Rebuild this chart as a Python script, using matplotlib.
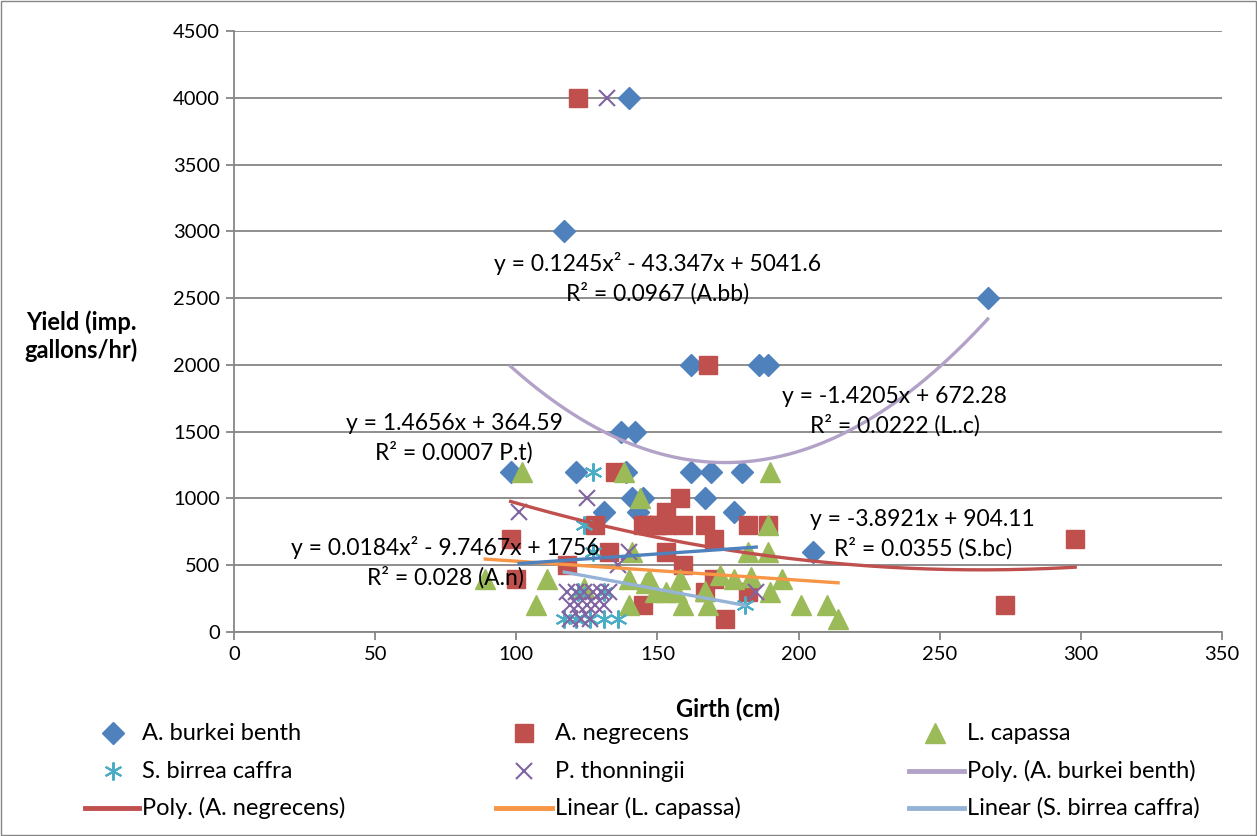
import numpy as np
import matplotlib.pyplot as plt
from matplotlib.patches import Rectangle
from matplotlib.lines import Line2D

plt.rcParams['font.family'] = ['Lato', 'DejaVu Sans']
plt.rcParams['font.size'] = 14

# scatter data (girth cm, yield imp. gallons/hr)
burkei_x = [140, 117, 267, 162, 186, 189, 137, 142, 98, 121, 139, 162, 169, 180, 141, 145, 167, 131, 143, 177, 205]
burkei_y = [4000, 3000, 2500, 2000, 2000, 2000, 1500, 1500, 1200, 1200, 1200, 1200, 1200, 1200, 1000, 1000, 1000, 900, 900, 900, 600]

negre_x = [122, 168, 135, 128, 98, 100, 118, 145, 150, 158, 153, 147, 153, 159, 167, 182, 189, 170,
           133, 153, 159, 170, 167, 174, 145, 182, 273, 298]
negre_y = [4000, 2000, 1200, 800, 700, 400, 500, 800, 800, 1000, 900, 800, 800, 800, 800, 800, 800, 700,
           600, 600, 500, 400, 300, 100, 200, 300, 200, 700]

capassa_x = [89, 102, 107, 111, 124, 138, 140, 141, 144, 146, 147, 149, 153, 157, 158, 159, 167, 168,
             172, 177, 182, 183, 189, 189, 190, 190, 194, 201, 210, 214, 140]
capassa_y = [400, 1200, 200, 400, 330, 1200, 200, 600, 1000, 370, 400, 300, 300, 300, 400, 200, 310, 200,
             430, 400, 600, 410, 800, 600, 1200, 300, 400, 200, 200, 100, 400]

birrea_x = [127, 124, 127, 122, 131, 117, 121, 126, 131, 136, 181]
birrea_y = [1200, 800, 600, 300, 300, 100, 100, 100, 100, 100, 200]

thonn_x = [132, 101, 125, 185, 118, 121, 124, 127, 130, 133, 119, 122, 125, 128, 131, 119, 123, 126, 140, 136]
thonn_y = [4000, 900, 1000, 300, 300, 300, 300, 300, 300, 300, 200, 200, 200, 200, 200, 100, 100, 100, 600, 500]

# trendline coefficients (highest power first) and x ranges, from the chart labels
poly_burkei = [0.1245, -43.347, 5041.6]
poly_negre = [0.0184, -9.7467, 1756]
lin_capassa = [-1.4205, 672.28]
lin_birrea = [-3.8921, 904.11]
lin_thonn = [1.4656, 364.59]
rng_burkei = (98, 267)
rng_negre = (98, 298)
rng_capassa = (89, 214)
rng_birrea = (117, 181)
rng_thonn = (101, 185)

c_blue = '#4F81BD'
c_red = '#C0504D'
c_green = '#9BBB59'
c_cyan = '#4BACC6'
c_purple = '#8064A2'
c_lilac = '#B3A2C7'
c_orange = '#F79646'
c_ltblue = '#95B3D7'
grid_c = '#868686'

W, H = 1257, 836
fig = plt.figure(figsize=(W/100, H/100), dpi=100)
ax = fig.add_axes([234/W, 1-632/H, (1222-234)/W, (632-31)/H])

def trend(coef, rng):
    xs = np.linspace(rng[0], rng[1], 200)
    return xs, np.polyval(coef, xs)

ax.plot(burkei_x, burkei_y, 'D', color=c_blue, ms=11, ls='none', zorder=3)
ax.plot(negre_x, negre_y, 's', color=c_red, ms=13, ls='none', zorder=3)
ax.plot(capassa_x, capassa_y, '^', color=c_green, ms=14, ls='none', zorder=3)
ax.plot(birrea_x, birrea_y, marker=(6, 2, 0), color=c_cyan, ms=13, mew=1.5, ls='none', zorder=3)
ax.plot(thonn_x, thonn_y, 'x', color=c_purple, ms=12, mew=1.5, ls='none', zorder=3)

xs, ys = trend(poly_burkei, rng_burkei)
ax.plot(xs, ys, color=c_lilac, lw=2.4, zorder=4)
xs, ys = trend(poly_negre, rng_negre)
ax.plot(xs, ys, color=c_red, lw=2.4, zorder=4)
xs, ys = trend(lin_capassa, rng_capassa)
ax.plot(xs, ys, color=c_orange, lw=2.4, zorder=4)
xs, ys = trend(lin_birrea, rng_birrea)
ax.plot(xs, ys, color=c_ltblue, lw=2.4, zorder=4)
xs, ys = trend(lin_thonn, rng_thonn)
ax.plot(xs, ys, color=c_blue, lw=2.4, zorder=4)

ax.set_xlim(0, 350)
ax.set_ylim(0, 4500)
ax.set_xticks(np.arange(0, 351, 50))
ax.set_yticks(np.arange(0, 4501, 500))
ax.yaxis.grid(True, color=grid_c, lw=1.3)
ax.set_axisbelow(True)
for s in ['top', 'right']:
    ax.spines[s].set_visible(False)
for s in ['left', 'bottom']:
    ax.spines[s].set_color(grid_c)
    ax.spines[s].set_linewidth(1.3)
ax.tick_params(axis='both', direction='out', color=grid_c, width=1.3, length=6, labelsize=14.5, pad=4)

# trendline equation labels
eq = dict(ha='center', va='center', linespacing=1.4, fontsize=16.5, zorder=5)
ax.text(150, 2646, 'y = 0.1245x² - 43.347x + 5041.6\nR² = 0.0967 (A.bb)', **eq)
ax.text(78, 1452, 'y = 1.4656x + 364.59\nR² = 0.0007 P.t)', **eq)
ax.text(234, 1650, 'y = -1.4205x + 672.28\nR² = 0.0222 (L..c)', **eq)
ax.text(244, 733, 'y = -3.8921x + 904.11\nR² = 0.0355 (S.bc)', **eq)
ax.text(75, 524, 'y = 0.0184x² - 9.7467x + 1756\nR² = 0.028 (A.n)', **eq)

fig.text(81/W, 1-336/H, 'Yield (imp.\ngallons/hr)', fontweight='bold', ha='center', va='center',
         fontsize=17, linespacing=1.25)
fig.text(728/W, 1-709/H, 'Girth (cm)', fontweight='bold', ha='center', va='center', fontsize=17)

# legend drawn by hand: (kind, style, label, marker x px, text x px, row y px)
legend_rows = [
    ('m', dict(marker='D', color=c_blue, ms=11), 'A. burkei benth', 113, 142, 733),
    ('m', dict(marker='s', color=c_red, ms=13), 'A. negrecens', 524, 555, 733),
    ('m', dict(marker='^', color=c_green, ms=14), 'L. capassa', 935, 967, 733),
    ('m', dict(marker=(6, 2, 0), color=c_cyan, ms=13, mew=1.5), 'S. birrea caffra', 113, 142, 771),
    ('m', dict(marker='x', color=c_purple, ms=12, mew=1.5), 'P. thonningii', 524, 555, 771),
    ('l', dict(color=c_lilac), 'Poly. (A. burkei benth)', 937, 967, 771),
    ('l', dict(color=c_red), 'Poly. (A. negrecens)', 113, 142, 808),
    ('l', dict(color=c_orange), 'Linear (L. capassa)', 524, 555, 808),
    ('l', dict(color=c_ltblue), 'Linear (S. birrea caffra)', 937, 967, 808),
]
for kind, st, label, mx, tx, y in legend_rows:
    yf = 1 - y/H
    if kind == 'm':
        fig.add_artist(Line2D([mx/W], [yf], ls='none', transform=fig.transFigure, **st))
    else:
        fig.add_artist(Line2D([(mx-28)/W, (tx-3)/W], [yf, yf], lw=3.5, transform=fig.transFigure, **st))
    fig.text(tx/W, yf, label, ha='left', va='center', fontsize=17)

fig.patches.append(Rectangle((0.001, 0.001), 0.998, 0.998, transform=fig.transFigure,
                             fill=False, edgecolor=grid_c, lw=1.0))

fig.savefig('out.png', dpi=100)
